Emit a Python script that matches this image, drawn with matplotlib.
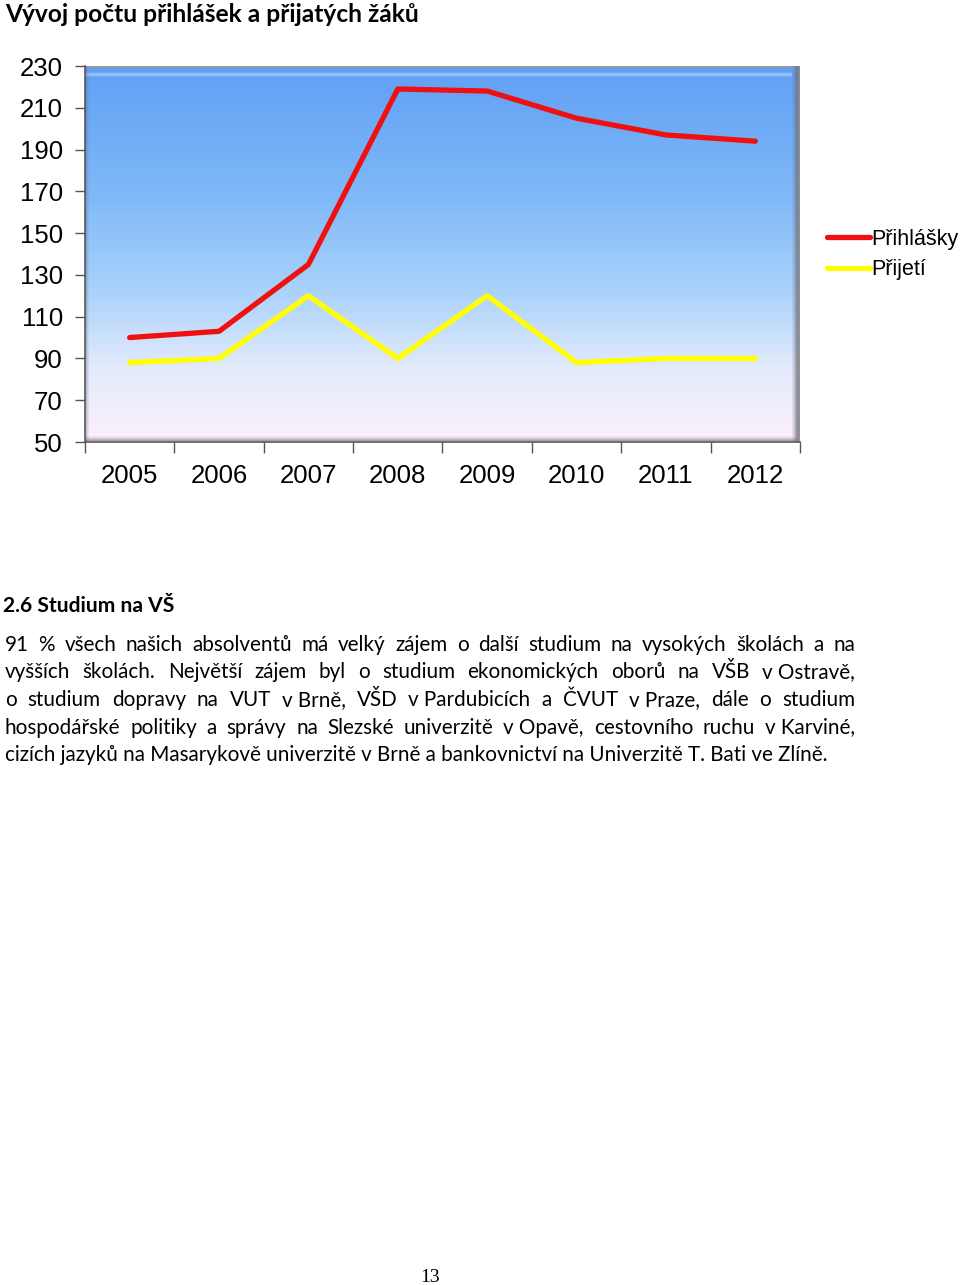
import numpy as np
import matplotlib
matplotlib.use("Agg")
import matplotlib.pyplot as plt
from matplotlib.lines import Line2D
from matplotlib.patches import Rectangle

# ---------------- data ----------------
years = ["2005", "2006", "2007", "2008", "2009", "2010", "2011", "2012"]
prihlasky = [100, 103, 135, 219, 218, 205, 197, 194]
prijeti = [88, 90, 120, 90, 120, 88, 90, 90]
y_ticks = [50, 70, 90, 110, 130, 150, 170, 190, 210, 230]
series_names = ["Přihlášky", "Přijetí"]

title_text = "Vývoj počtu přihlášek a přijatých žáků"
heading_text = "2.6 Studium na VŠ"
NB = "\u00a0"
body_lines = [
    "91 % všech našich absolventů má velký zájem o další studium na vysokých školách a na",
    "vyšších školách. Největší zájem byl o studium ekonomických oborů na VŠB v" + NB + "Ostravě,",
    "o studium dopravy na VUT v" + NB + "Brně, VŠD v" + NB + "Pardubicích a ČVUT v" + NB + "Praze, dále o studium",
    "hospodářské politiky a správy na Slezské univerzitě v" + NB + "Opavě, cestovního ruchu v" + NB + "Karviné,",
    "cizích jazyků na Masarykově univerzitě v Brně a bankovnictví na Univerzitě T. Bati ve Zlíně.",
]
page_number = "13"

W, H = 960, 1285
fig = plt.figure(figsize=(W / 100, H / 100), dpi=100)
fig.patch.set_facecolor("white")

def fx(px):
    return px / W

def fy(py):
    return 1 - py / H

# ---------------- chart ----------------
L, R, T, B = 85, 800, 66, 442
AW, AH = R - L, B - T
ax = fig.add_axes([fx(L), fy(B), fx(AW), AH / H])
x = np.arange(len(years))
ax.set_xlim(-0.5, len(years) - 0.5)
ax.set_ylim(y_ticks[0], y_ticks[-1])

# gradient background
stops = np.array([0.00, 0.35, 0.60, 0.80, 1.00])
cols = np.array([(96, 160, 244), (128, 185, 248), (170, 210, 250),
                 (226, 234, 252), (253, 240, 250)], dtype=float) / 255
n = 256
pos = np.linspace(0, 1, n)
img = np.zeros((n, 1, 3))
for c in range(3):
    img[:, 0, c] = np.interp(pos, stops, cols[:, c])
ax.imshow(img, extent=(0, 1, 0, 1), transform=ax.transAxes, aspect="auto",
          zorder=0, interpolation="bicubic")

# bevel effect (pixel based strips)
def strip(x0, y0, w, h, color, alpha):
    ax.add_patch(Rectangle((x0 / AW, y0 / AH), w / AW, h / AH, transform=ax.transAxes,
                           facecolor=color, edgecolor="none", alpha=alpha, zorder=1))

# top highlight (soft)
for i, a in enumerate([0.15, 0.35, 0.45, 0.35, 0.15]):
    strip(0, AH - 11 + i, AW - 8, 1, "#d8e9fc", a)
strip(0, AH - 2, AW, 2, "#9a9a9a", 0.9)
# right shading
for i, a in enumerate([0.12, 0.22, 0.35, 0.5, 0.65, 0.8]):
    strip(AW - 8 + i, 0, 1, AH, "#6c7080", a)
strip(AW - 2, 0, 2, AH, "#8a8a8a", 0.9)
# bottom shading
for i, a in enumerate([0.7, 0.5, 0.32, 0.18, 0.08]):
    strip(0, 1 + i, AW - 2, 1, "#8a7c8c", a)
# left shading
for i, a in enumerate([0.35, 0.2, 0.1]):
    strip(1 + i, 0, 1, AH, "#5a6a88", a)

ax.plot(x, prihlasky, color="#f01010", lw=3.8, solid_capstyle="round",
        solid_joinstyle="round", zorder=3, label=series_names[0])
ax.plot(x, prijeti, color="#ffff00", lw=3.8, solid_capstyle="round",
        solid_joinstyle="round", zorder=3, label=series_names[1])

for s in ["left", "bottom"]:
    ax.spines[s].set_color("#555555")
    ax.spines[s].set_linewidth(1.2)
for s in ["top", "right"]:
    ax.spines[s].set_visible(False)

ax.set_yticks(y_ticks)
ax.set_yticklabels([str(v) for v in y_ticks], fontsize=18.5, family="Liberation Sans")
ax.tick_params(axis="y", length=7, width=1, color="#555555", pad=9)
ax.set_xticks(np.arange(len(years) + 1) - 0.5)
ax.set_xticklabels([])
ax.tick_params(axis="x", which="major", length=8, width=1, color="#555555")
ax.set_xticks(x, minor=True)
ax.set_xticklabels(years, minor=True, fontsize=18.5, family="Liberation Sans")
ax.tick_params(axis="x", which="minor", length=0, pad=15.5)

handles = [Line2D([], [], color="#f01010", lw=3.8, solid_capstyle="round"),
           Line2D([], [], color="#ffff00", lw=3.8, solid_capstyle="round")]
fig.legend(handles, series_names, loc="upper left",
           bbox_to_anchor=(fx(827), fy(229)), bbox_transform=fig.transFigure,
           frameon=False, handlelength=2.0, handletextpad=0.05, labelspacing=0.42,
           borderaxespad=0, borderpad=0,
           prop={"family": "Liberation Sans", "size": 15.5})

# ---------------- text ----------------
renderer = fig.canvas.get_renderer()
BODY_FONT = "Lato"

def text_width(s, size, weight="normal", family=BODY_FONT):
    t = fig.text(0, 0, s, fontsize=size, fontweight=weight, family=family)
    w = t.get_window_extent(renderer).width
    t.remove()
    return w

def fit_size(s, target_px, weight="normal", family=BODY_FONT):
    w = text_width(s, 12, weight, family)
    return 12 * target_px / w

# title
ts = fit_size(title_text, 410, "bold")
fig.text(fx(5), fy(22), title_text, fontsize=ts, fontweight="bold",
         family=BODY_FONT, va="baseline", ha="left")

# heading
hs = fit_size(heading_text, 170, "bold")
fig.text(fx(3), fy(612), heading_text, fontsize=hs, fontweight="bold",
         family=BODY_FONT, va="baseline", ha="left")

# body, justified
bs = fit_size(body_lines[-1], 822)
baselines = [651, 678.5, 706, 733.5, 761]
x0, x1 = 5, 855
for i, (line, yb) in enumerate(zip(body_lines, baselines)):
    if i == len(body_lines) - 1:
        fig.text(fx(x0), fy(yb), line, fontsize=bs, family=BODY_FONT,
                 va="baseline", ha="left")
        continue
    words = line.split(" ")
    widths = [text_width(w, bs) for w in words]
    gap = (x1 - x0 - sum(widths)) / (len(words) - 1)
    cx = x0
    for w, wd in zip(words, widths):
        fig.text(fx(cx), fy(yb), w, fontsize=bs, family=BODY_FONT,
                 va="baseline", ha="left")
        cx += wd + gap

# page number
fig.text(fx(430), fy(1282), page_number, fontsize=14, family="Liberation Serif",
         va="baseline", ha="center")

fig.savefig("out.png", dpi=100)
